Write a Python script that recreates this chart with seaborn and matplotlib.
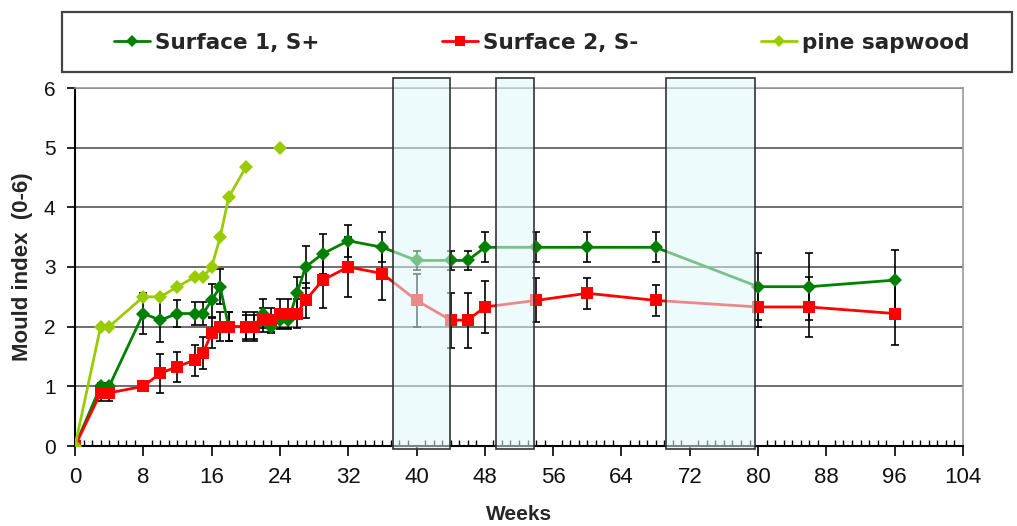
import numpy as np
import pandas as pd
import matplotlib
matplotlib.use("Agg")
import matplotlib.pyplot as plt
from matplotlib.patches import Rectangle
from matplotlib.ticker import MultipleLocator
import seaborn as sns

# ---- data ----
weeks = [0, 3, 4, 8, 10, 12, 14, 15, 16, 17, 18, 20, 21, 22, 23, 24, 25, 26, 27, 29,
         32, 36, 40, 44, 46, 48, 54, 60, 68, 80, 86, 96]
s1_vals = [0, 1.0, 1.0, 2.22, 2.11, 2.22, 2.22, 2.22, 2.44, 2.67, 2.0, 2.0, 2.0, 2.22, 2.0,
           2.11, 2.11, 2.56, 3.0, 3.22, 3.44, 3.33, 3.11, 3.11, 3.11, 3.33, 3.33, 3.33,
           3.33, 2.67, 2.67, 2.78]
s1_err = [0, 0.05, 0.05, 0.34, 0.37, 0.22, 0.2, 0.2, 0.28, 0.29, 0.24, 0.2, 0.2, 0.24, 0.1,
          0.15, 0.15, 0.28, 0.35, 0.33, 0.27, 0.25, 0.16, 0.16, 0.16, 0.25, 0.25, 0.25,
          0.25, 0.56, 0.56, 0.5]
s2_vals = [0, 0.89, 0.89, 1.0, 1.22, 1.33, 1.44, 1.56, 1.89, 2.0, 2.0, 2.0, 2.0, 2.11, 2.11,
           2.22, 2.22, 2.22, 2.44, 2.78, 3.0, 2.89, 2.44, 2.11, 2.11, 2.33, 2.44, 2.56,
           2.44, 2.33, 2.33, 2.22]
s2_err = [0, 0.13, 0.13, 0, 0.33, 0.25, 0.26, 0.27, 0.25, 0.24, 0.24, 0.24, 0.24, 0.2, 0.2,
          0.24, 0.24, 0.24, 0.3, 0.47, 0.5, 0.44, 0.44, 0.46, 0.46, 0.43, 0.37, 0.26,
          0.26, 0.33, 0.5, 0.53]
pine_weeks = [0, 3, 4, 8, 10, 12, 14, 15, 16, 17, 18, 20]
pine_vals = [0, 2.0, 2.0, 2.5, 2.5, 2.67, 2.83, 2.83, 3.0, 3.5, 4.17, 4.67]
pine_extra_weeks = [24]
pine_extra_vals = [5.0]
shade_periods = [(37.3, 43.9), (49.3, 53.7), (69.2, 79.6)]
labels = ["Surface 1, S+", "Surface 2, S-", "pine sapwood"]
colors = ["#008000", "#FF0000", "#99CC00"]

# ---- style ----
sns.set_theme(style="white")
plt.rcParams["font.family"] = ["Liberation Sans", "DejaVu Sans"]

fig = plt.figure(figsize=(10.17, 5.26), dpi=100)
ax = fig.add_axes([75 / 1017, 1 - 446 / 526, (963 - 75) / 1017, (446 - 88) / 526])

df1 = pd.DataFrame({"week": weeks, "val": s1_vals})
df2 = pd.DataFrame({"week": weeks, "val": s2_vals})
dfp = pd.DataFrame({"week": pine_weeks, "val": pine_vals})
dfpx = pd.DataFrame({"week": pine_extra_weeks, "val": pine_extra_vals})

# Error bars first (behind)
ax.errorbar(weeks, s1_vals, yerr=s1_err, fmt="none", ecolor="black", elinewidth=1.2,
            capsize=3, capthick=1.2, zorder=3)
ax.errorbar(weeks, s2_vals, yerr=s2_err, fmt="none", ecolor="black", elinewidth=1.2,
            capsize=3, capthick=1.2, zorder=3)

sns.lineplot(data=df1, x="week", y="val", ax=ax, color=colors[0], marker="D",
             markersize=7, markeredgewidth=0, linewidth=2, sort=False, label=labels[0],
             zorder=4)
sns.lineplot(data=df2, x="week", y="val", ax=ax, color=colors[1], marker="s",
             markersize=8, markeredgewidth=0, linewidth=2, sort=False, label=labels[1],
             zorder=5)
sns.lineplot(data=dfp, x="week", y="val", ax=ax, color=colors[2], marker="D",
             markersize=7, markeredgewidth=0, linewidth=2, sort=False, label=labels[2],
             zorder=6)
sns.lineplot(data=dfpx, x="week", y="val", ax=ax, color=colors[2], marker="D",
             markersize=7, markeredgewidth=0, linewidth=2, legend=False, zorder=6)

# shaded periods on top, semi-transparent
for (a, b) in shade_periods:
    ax.add_patch(Rectangle((a, -0.05), b - a, 6.22, facecolor="#dff8fb", alpha=0.55,
                           edgecolor="none", clip_on=False, zorder=7))
    ax.add_patch(Rectangle((a, -0.05), b - a, 6.22, facecolor="none",
                           edgecolor="#333333", linewidth=1.2, clip_on=False, zorder=8))

ax.set_xlim(0, 104)
ax.set_ylim(0, 6)
ax.xaxis.set_major_locator(MultipleLocator(8))
ax.xaxis.set_minor_locator(MultipleLocator(1))
ax.yaxis.set_major_locator(MultipleLocator(1))
ax.grid(axis="y", color="#555555", linewidth=1.2)
ax.set_axisbelow(True)

ax.tick_params(axis="x", which="major", direction="out", length=7, width=1.2,
               color="black", labelsize=16, pad=8, bottom=True)
ax.tick_params(axis="x", which="minor", direction="in", length=4, width=1,
               color="black", bottom=True)
ax.tick_params(axis="y", which="major", direction="out", length=6, width=1.2,
               color="black", labelsize=15, pad=8, left=True)
for lab in ax.get_xticklabels() + ax.get_yticklabels():
    lab.set_color("#111111")

for s in ["left", "bottom"]:
    ax.spines[s].set_color("black")
    ax.spines[s].set_linewidth(1.5)
for s in ["top", "right"]:
    ax.spines[s].set_color("#999999")
    ax.spines[s].set_linewidth(1.2)

ax.set_xlabel("Weeks", fontsize=15, fontweight="bold", labelpad=12)
ax.set_ylabel("Mould index  (0-6)", fontsize=16, fontweight="bold", labelpad=8)

# legend
handles, lbls = ax.get_legend_handles_labels()
ax.get_legend().remove()
fig.legend(handles, lbls, loc="center", bbox_to_anchor=(542 / 1017, 1 - 43 / 526),
           ncol=3, frameon=False,
           prop={"family": "DejaVu Sans", "weight": "bold", "size": 15.5},
           handlelength=1.65, handletextpad=0.25, columnspacing=5.7, markerscale=0.85)
fig.patches.append(Rectangle((62 / 1017, 1 - 72 / 526), (1012 - 62) / 1017, 60 / 526,
                             transform=fig.transFigure, facecolor="none",
                             edgecolor="#444444", linewidth=1.6))

fig.savefig("out.png", dpi=100)
